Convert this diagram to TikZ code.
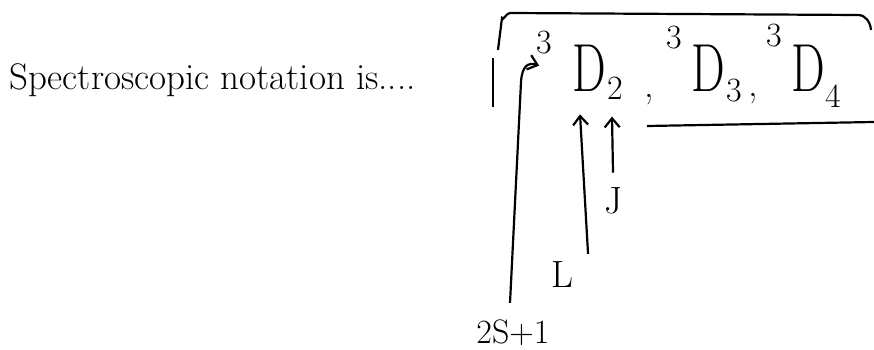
\documentclass[tikz,border=0pt]{standalone}
\usepackage{amsmath,graphicx}
\usetikzlibrary{arrows.meta,positioning,calc}

\newcommand{\bigD}{\scalebox{0.7}[1]{D}}
\begin{document}
\begin{tikzpicture}[x=1pt,y=-1pt,line width=2.2pt,>={Straight Barb[length=9pt,width=15pt]},every node/.style={inner sep=0pt,align=center},
  termD/.style={font=\fontsize{68}{76}\selectfont},
  small/.style={font=\fontsize{34}{38}\selectfont},
  lbl/.style={font=\fontsize{38}{42}\selectfont}]
\useasboundingbox (0,0) rectangle (874,350);
% heading
\node[anchor=west,font=\fontsize{37}{42}\selectfont] (title) at (8,80) {Spectroscopic notation is....};
% the three terms
\node[small] (sthree) at (544,43) {3};
\node[termD] (dtwo) at (589,68) {\bigD};
\node[small] (jtwo) at (615,88) {2};
\node[lbl] (comA) at (649,100) {,};
\node[small] (sthreeB) at (674,38) {3};
\node[termD] (dthree) at (708,68) {\bigD};
\node[small] (jthree) at (734,91) {3};
\node[lbl] (comB) at (753,99) {,};
\node[small] (sthreeC) at (774,36) {3};
\node[termD] (dfour) at (808,68) {\bigD};
\node[small] (jfour) at (833,96) {4};
% bracket round the terms
\draw (493,58) -- (493,107);
\draw (498,50) -- (502,18) to[out=-80,in=180] (510,13) -- (858,15) to[out=0,in=95] (871,30);
\draw (874,122) -- (647,126);
% labels and arrows
\node[lbl] (jlbl) at (613,201) {J};
\node[lbl] (llbl) at (562,275) {L};
\node[font=\fontsize{34}{38}\selectfont] (slbl) at (513,333) {2S+1};
\draw[->] ($(jlbl.north)+(0,-14)$) -- ($(jlbl.north)+(-1,-70)$);
\draw[->] ($(llbl.north east)+(14,-7)$) -- ($(dtwo.south)+(-9,22)$);
\draw[->] ($(slbl.north)+(-3,-16)$) -- (521,82) .. controls (522,66) and (528,62) .. ($(sthree.south west)+(4,10)$);
\end{tikzpicture}
\end{document}
